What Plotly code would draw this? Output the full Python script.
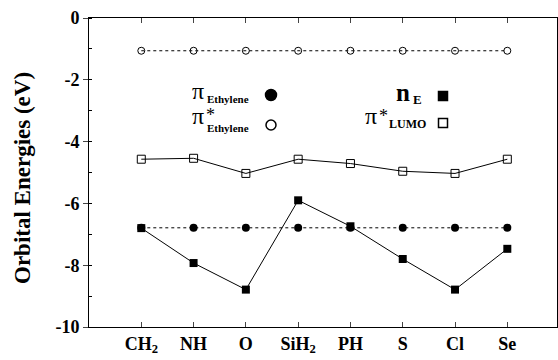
import plotly.graph_objects as go

categories = ["CH<sub>2</sub>", "NH", "O", "SiH<sub>2</sub>", "PH", "S", "Cl", "Se"]
pi_star_ethylene = [-1.06, -1.06, -1.06, -1.06, -1.06, -1.06, -1.06, -1.06]
pi_star_lumo = [-4.57, -4.54, -5.03, -4.57, -4.71, -4.96, -5.03, -4.57]
pi_ethylene = [-6.79, -6.79, -6.79, -6.79, -6.79, -6.79, -6.79, -6.79]
n_e = [-6.80, -7.93, -8.79, -5.90, -6.74, -7.80, -8.79, -7.47]
y_ticks = [0, -2, -4, -6, -8, -10]

x = list(range(len(categories)))
FONT = "Liberation Serif"
L, T, W, H = 89, 18, 468, 309

fig = go.Figure()
fig.add_trace(go.Scatter(x=x, y=pi_star_ethylene, mode="lines+markers",
                         line=dict(color="black", width=1, dash="dot"),
                         marker=dict(symbol="circle-open", size=7, color="black", line=dict(width=1))))
fig.add_trace(go.Scatter(x=x, y=pi_star_lumo, mode="lines+markers",
                         line=dict(color="black", width=1),
                         marker=dict(symbol="square-open", size=8, color="black", line=dict(width=1))))
fig.add_trace(go.Scatter(x=x, y=pi_ethylene, mode="lines+markers",
                         line=dict(color="black", width=1, dash="dot"),
                         marker=dict(symbol="circle", size=8, color="black")))
fig.add_trace(go.Scatter(x=x, y=n_e, mode="lines+markers",
                         line=dict(color="black", width=1),
                         marker=dict(symbol="square", size=8, color="black")))

fig.update_layout(
    width=558, height=360,
    margin=dict(l=L, r=558 - L - W, t=T, b=360 - T - H, autoexpand=False),
    plot_bgcolor="white", paper_bgcolor="white",
    showlegend=False,
    font=dict(family=FONT, color="black"),
    xaxis=dict(range=[-1, 7.95], tickmode="array", tickvals=x,
               ticktext=["<b>%s</b>" % c for c in categories],
               tickfont=dict(size=18, family=FONT), ticks="inside", ticklen=5,
               showline=True, linecolor="black", linewidth=1, mirror="ticks",
               showgrid=False, zeroline=False, automargin=False),
    yaxis=dict(range=[-10, 0], tickmode="array", tickvals=y_ticks,
               ticktext=["<b>%d</b>" % v for v in y_ticks],
               tickfont=dict(size=18, family=FONT), ticks="outside", ticklen=5,
               showline=True, linecolor="black", linewidth=1, mirror=True,
               showgrid=False, zeroline=False, automargin=False,
               minor=dict(ticks="inside", ticklen=3, dtick=1, tickcolor="black")),
)


def px(xp):
    return (xp - L) / W


def py(yp):
    return (T + H - yp) / H


# y-axis title
fig.add_annotation(text="<b>Orbital Energies (eV)</b>", x=px(22), y=py(178), xref="paper", yref="paper",
                   textangle=-90, showarrow=False, xanchor="center", yanchor="middle",
                   font=dict(size=23, family=FONT, color="black"))

# legend text pieces: (text, x_px, y_px, anchor, size)
legend_items = [
    ("π", 190, 91, "left", 24),
    ("<b>Ethylene</b>", 205, 99, "left", 11),
    ("π", 190, 116, "left", 24),
    ("*", 204, 115, "left", 18),
    ("<b>Ethylene</b>", 205, 128, "left", 11),
    ("<b>n</b>", 394, 92, "left", 25),
    ("<b>E</b>", 411, 99, "left", 13),
    ("π", 363, 116, "left", 24),
    ("*", 377, 116, "left", 18),
    ("<b>LUMO</b>", 387, 124, "left", 12),
]
for text, xp, yp, anc, sz in legend_items:
    fig.add_annotation(text=text, x=px(xp), y=py(yp), xref="paper", yref="paper",
                       xanchor=anc, yanchor="middle", showarrow=False,
                       font=dict(size=sz, family=FONT, color="black"))

# legend key symbols: (shape, cx, cy, size, filled)
legend_keys = [
    ("circle", 271, 95, 11, True),
    ("circle", 271, 125, 10, False),
    ("rect", 443, 96, 9, True),
    ("rect", 443, 123, 9, False),
]
for shp, cx, cy, s, filled in legend_keys:
    fig.add_shape(type=shp, xref="paper", yref="paper",
                  x0=px(cx - s / 2), x1=px(cx + s / 2), y0=py(cy + s / 2), y1=py(cy - s / 2),
                  line=dict(color="black", width=1.5),
                  fillcolor="black" if filled else "white")

fig.write_html("out.html", config={"displayModeBar": False},
               post_script="document.body.style.margin='0';document.body.style.padding='0';")
